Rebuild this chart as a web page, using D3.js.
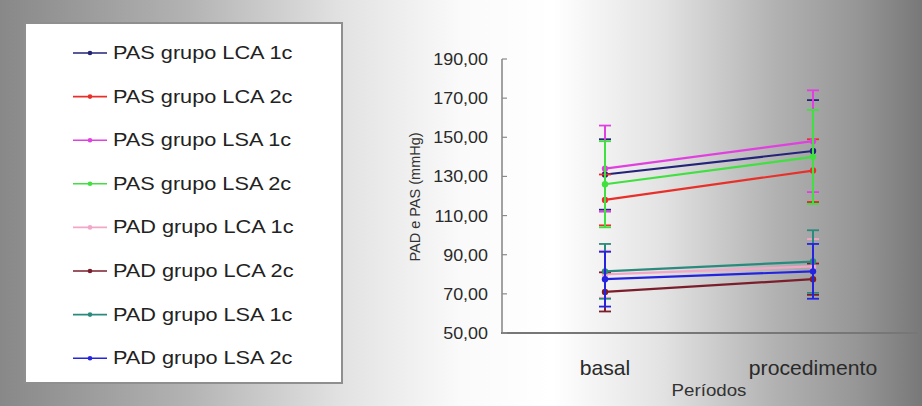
<!DOCTYPE html>
<html>
<head>
<meta charset="utf-8">
<script src="https://cdn.jsdelivr.net/npm/d3@7"></script>
<style>
  html, body { margin: 0; padding: 0; background: #fff; }
  svg { display: block; font-family: "Liberation Sans", Arial, sans-serif; }
</style>
</head>
<body>
<svg id="chart" width="922" height="406"></svg>
<script>
// data
var periods = ["basal", "procedimento"];
var seriesNames = ["PAS grupo LCA 1c", "PAS grupo LCA 2c", "PAS grupo LSA 1c", "PAS grupo LSA 2c",
                   "PAD grupo LCA 1c", "PAD grupo LCA 2c", "PAD grupo LSA 1c", "PAD grupo LSA 2c"];
var seriesColors = ["#23237a", "#e8302a", "#e040e0", "#3fe03f",
                    "#f2a6c8", "#7a1e2c", "#2a8a7e", "#2424e0"];
var means = [[131, 143], [118, 133], [134, 148], [126, 140],
             [80, 84], [71, 77.5], [81.5, 86.5], [77.5, 81.5]];
var sds = [[18, 26], [13, 16], [22, 26], [22, 24],
           [12, 14], [10, 8], [14, 16], [14, 14]];
var yTicks = [50, 70, 90, 110, 130, 150, 170, 190];

var svg = d3.select("#chart");
var W = 922, H = 406;
var sx = 1.12; // the picture is a little wide

// background gradient
var defs = svg.append("defs");
var grad = defs.append("linearGradient").attr("id", "bg")
    .attr("x1", 0).attr("x2", 1).attr("y1", 0).attr("y2", 0);
[[0, "#888888"], [0.2, "#b2b2b2"], [0.37, "#e2e2e2"], [0.5, "#fafafa"], [0.6, "#ffffff"],
 [0.72, "#e2e2e2"], [0.84, "#b2b2b2"], [0.93, "#969696"], [1, "#787878"]]
  .forEach(function (s) { grad.append("stop").attr("offset", s[0]).attr("stop-color", s[1]); });
svg.append("rect").attr("width", W).attr("height", H).attr("fill", "url(#bg)");

// legend
var lg = svg.append("g");
lg.append("rect").attr("x", 25).attr("y", 23).attr("width", 317).attr("height", 360)
    .attr("fill", "#fff").attr("stroke", "#8f8f8f").attr("stroke-width", 2);
seriesNames.forEach(function (name, i) {
    var yy = 53 + i * 43.6;
    lg.append("line").attr("x1", 73).attr("x2", 107).attr("y1", yy).attr("y2", yy)
        .attr("stroke", seriesColors[i]).attr("stroke-width", 1.6);
    lg.append("circle").attr("cx", 90).attr("cy", yy).attr("r", 2.3).attr("fill", seriesColors[i]);
    lg.append("text").attr("transform", "translate(113," + (yy + 6) + ") scale(1.18,1)")
        .attr("font-size", 18.4).attr("fill", "#222").text(name);
});

// plot
var x = d3.scalePoint().domain(periods).range([605, 813]);
var y = d3.scaleLinear().domain([50, 190]).range([333, 59]);

var axisG = svg.append("g");
axisG.append("line").attr("x1", 502).attr("x2", 502).attr("y1", y(190)).attr("y2", y(50))
    .attr("stroke", "#8a8a8a").attr("stroke-width", 1.6);
axisG.append("line").attr("x1", 501).attr("x2", 918).attr("y1", y(50)).attr("y2", y(50))
    .attr("stroke", "#777").attr("stroke-width", 2);
axisG.selectAll(".tick").data(yTicks).enter().append("line")
    .attr("x1", 502).attr("x2", 507)
    .attr("y1", function (d) { return y(d); }).attr("y2", function (d) { return y(d); })
    .attr("stroke", "#8a8a8a").attr("stroke-width", 1.2);
axisG.selectAll(".tl").data(yTicks).enter().append("text")
    .attr("transform", function (d) { return "translate(488," + (y(d) + 6) + ") scale(" + sx + ",1)"; })
    .attr("text-anchor", "end").attr("font-size", 16).attr("fill", "#2a2a2a")
    .text(function (d) { return d3.format(".2f")(d).replace(".", ","); });

axisG.selectAll(".xl").data(periods).enter().append("text")
    .attr("transform", function (d) { return "translate(" + x(d) + ",375) scale(1.06,1)"; })
    .attr("text-anchor", "middle").attr("font-size", 20).attr("fill", "#2a2a2a")
    .text(function (d) { return d; });
svg.append("text").attr("transform", "translate(709,396) scale(1.1,1)")
    .attr("text-anchor", "middle").attr("font-size", 17).attr("fill", "#333").text("Períodos");
svg.append("text").attr("transform", "translate(420,197) rotate(-90)")
    .attr("text-anchor", "middle").attr("font-size", 14.5).attr("fill", "#333").text("PAD e PAS (mmHg)");

// series: error bars, lines, points
var line = d3.line().x(function (d) { return x(d.p); }).y(function (d) { return y(d.v); });
seriesNames.forEach(function (name, i) {
    var g = svg.append("g");
    var pts = periods.map(function (p, j) { return { p: p, v: means[i][j], s: sds[i][j] }; });
    pts.forEach(function (d) {
        var cx = x(d.p);
        g.append("line").attr("x1", cx).attr("x2", cx).attr("y1", y(d.v - d.s)).attr("y2", y(d.v + d.s))
            .attr("stroke", seriesColors[i]).attr("stroke-width", 2);
        [d.v - d.s, d.v + d.s].forEach(function (e) {
            g.append("line").attr("x1", cx - 6).attr("x2", cx + 6).attr("y1", y(e)).attr("y2", y(e))
                .attr("stroke", seriesColors[i]).attr("stroke-width", 1.8);
        });
    });
    g.append("path").attr("d", line(pts)).attr("fill", "none")
        .attr("stroke", seriesColors[i]).attr("stroke-width", 2.2);
    g.selectAll("circle").data(pts).enter().append("circle")
        .attr("cx", function (d) { return x(d.p); }).attr("cy", function (d) { return y(d.v); })
        .attr("r", 3.2).attr("fill", seriesColors[i]);
});
</script>
</body>
</html>
